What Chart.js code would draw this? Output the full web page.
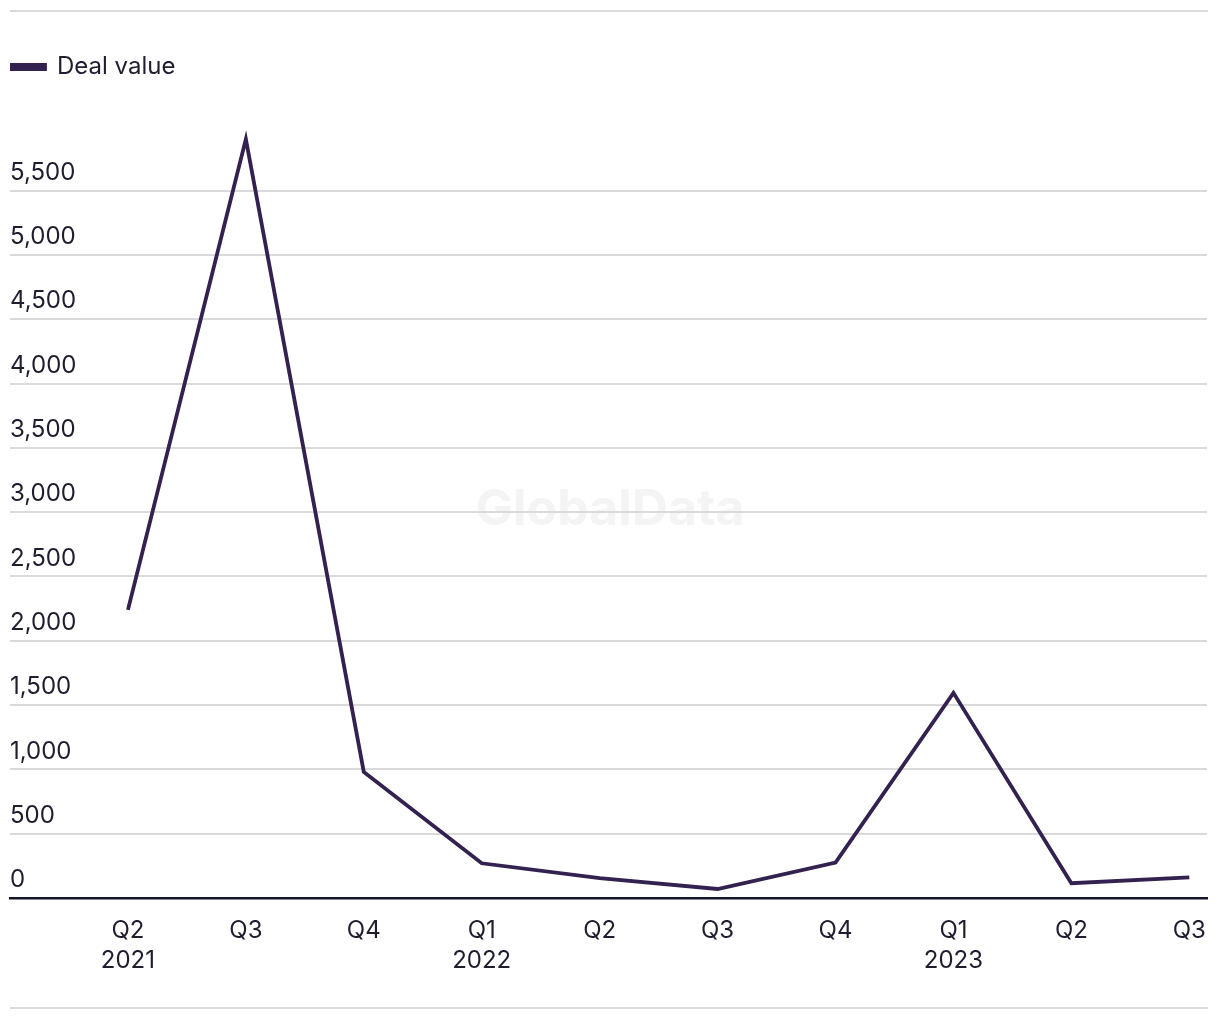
<!DOCTYPE html>
<html><head><meta charset="utf-8">
<script src="https://cdn.jsdelivr.net/npm/chart.js@4/dist/chart.umd.min.js"></script>
<style>html,body{margin:0;padding:0;background:#fff}#wrap{width:1220px;height:1020px}</style>
</head><body><div id="wrap"><canvas id="c" width="1220" height="1020"></canvas></div>
<script>
const quarters = ['Q2','Q3','Q4','Q1','Q2','Q3','Q4','Q1','Q2','Q3'];
const years = ['2021','','','2022','','','','2023','',''];
const dealValue = [2240, 5900, 980, 270, 155, 70, 275, 1595, 115, 160];
const yTickValues = [0,500,1000,1500,2000,2500,3000,3500,4000,4500,5000,5500];
const seriesName = 'Deal value';

const TEXT = '#1f1d2e';
const LINE = '#33214f';
const FONT = 'Inter, "Liberation Sans", sans-serif';

const frame = {
  id: 'frame',
  beforeDraw(chart) {
    const ctx = chart.ctx;
    ctx.save();
    ctx.font = 'bold 50px ' + FONT;
    ctx.fillStyle = '#f4f4f4';
    ctx.textAlign = 'center';
    ctx.textBaseline = 'middle';
    ctx.fillText('GlobalData', 610, 510);
    ctx.strokeStyle = '#dadada';
    ctx.lineWidth = 2;
    ctx.beginPath();
    ctx.moveTo(10, 11); ctx.lineTo(1208, 11);
    ctx.moveTo(10, 1008); ctx.lineTo(1208, 1008);
    ctx.stroke();
    ctx.restore();
  }
};

new Chart(document.getElementById('c'), {
  type: 'line',
  data: {
    datasets: [{
      label: seriesName,
      data: dealValue.map((v, i) => ({x: i, y: v})),
      borderColor: LINE,
      backgroundColor: LINE,
      borderWidth: 3.8,
      pointRadius: 0,
      tension: 0,
      fill: false
    }]
  },
  options: {
    responsive: false,
    animation: false,
    layout: {padding: {top: 55, left: 10, right: 13, bottom: 34}},
    plugins: {
      legend: {
        position: 'top', align: 'start',
        labels: {boxWidth: 35, boxHeight: 4, color: TEXT, font: {family: FONT, size: 24}, padding: 0}
      },
      tooltip: {enabled: false}
    },
    scales: {
      x: {
        type: 'linear', min: -1, max: 9.15,
        afterBuildTicks(s) { s.ticks = quarters.map((q, i) => ({value: i})); },
        ticks: {
          autoSkip: false, maxRotation: 0, padding: 10, color: TEXT,
          font: {family: FONT, size: 24, lineHeight: 1.25},
          callback(v) { const i = Math.round(v); return years[i] ? [quarters[i], years[i]] : quarters[i]; }
        },
        grid: {display: false},
        border: {display: true, color: '#14142b', width: 2.5}
      },
      y: {
        min: 0, max: 6290,
        afterBuildTicks(s) { s.ticks = yTickValues.map(v => ({value: v})); },
        ticks: {
          mirror: true, padding: 0, labelOffset: -18, color: TEXT,
          font: {family: FONT, size: 24},
          callback(v) { return v.toLocaleString('en-US'); }
        },
        grid: {color: '#dadada', lineWidth: 2, drawTicks: false},
        border: {display: false}
      }
    }
  },
  plugins: [frame]
});
</script>
</body></html>
